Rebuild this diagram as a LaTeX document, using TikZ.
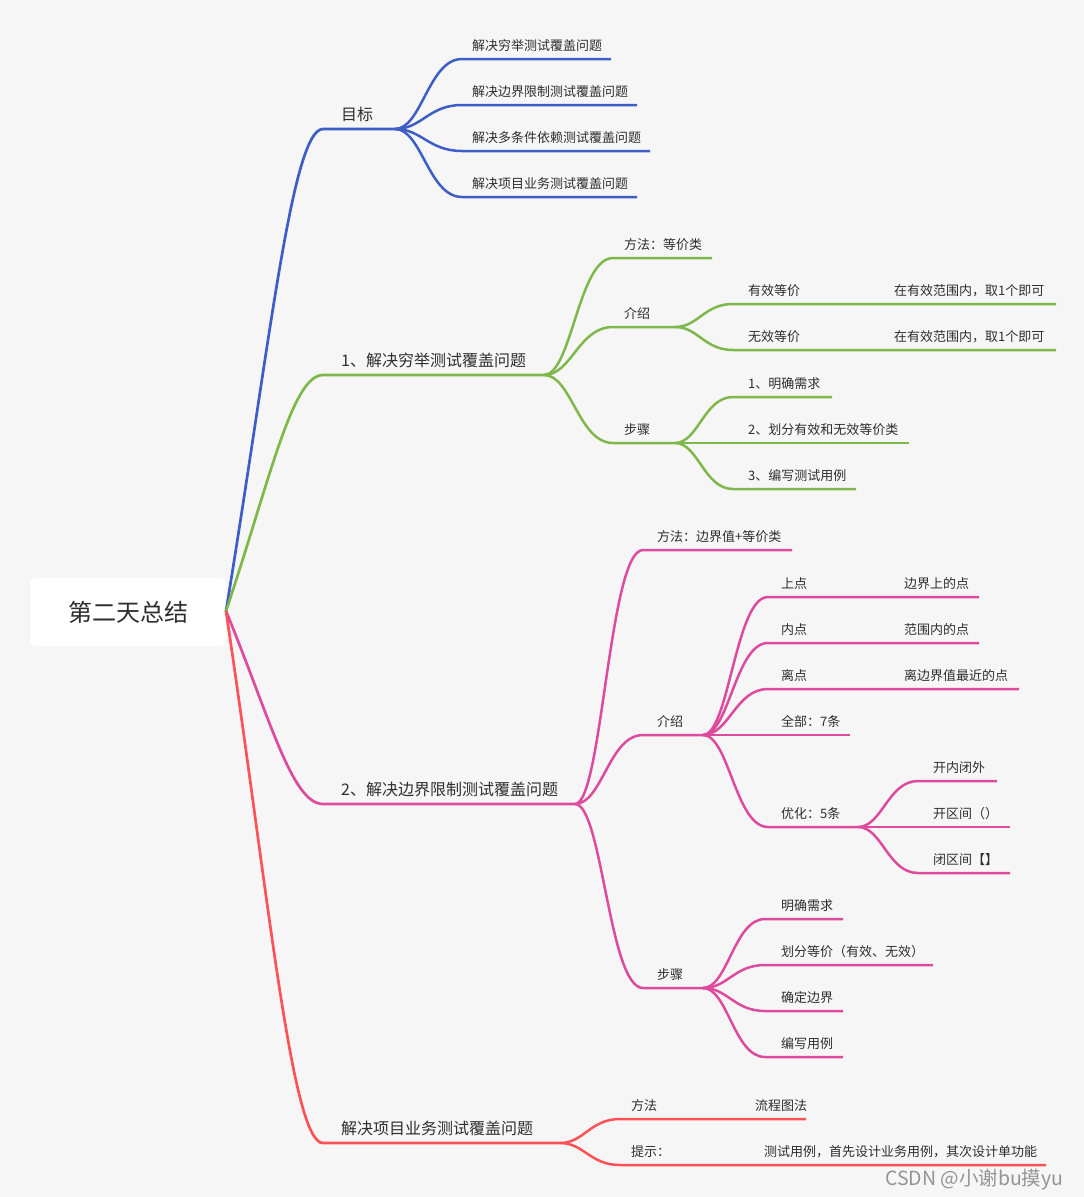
\documentclass[tikz,border=0pt]{standalone}
\usepackage{fontspec}
\newfontfamily\cjk{Noto Sans CJK SC}
\usetikzlibrary{calc}
\definecolor{bgc}{HTML}{F6F6F6}
\definecolor{txt}{HTML}{2E2E2E}
\definecolor{cb}{HTML}{3D5DC7}
\definecolor{cg}{HTML}{7EB84B}
\definecolor{cm}{HTML}{DD4A9E}
\definecolor{cr}{HTML}{FF5257}
% main branch from the root: steep start, rounded turn into the horizontal
\newcommand\brm[3]{\draw[#1] let \p1=(#2), \p2=(#3s) in (#2) .. controls ({\x1+0.45*(\x2-\x1)},{\y1+0.55*(\y2-\y1)}) and ({\x2-0.32*(\x2-\x1)},{\y2}) .. (#3s) -- (#3e);}
% child branch: S curve
\newcommand\brc[3]{\draw[#1] let \p1=(#2), \p2=(#3s) in (#2) .. controls ({\x1+0.4*(\x2-\x1)},{\y1}) and ({\x1+0.5*(\x2-\x1)},{\y2}) .. (#3s) -- (#3e);}
\begin{document}
\begin{tikzpicture}[x=1pt,y=-1pt,
  lb/.style={anchor=base west, inner sep=0pt, text=txt, font=\cjk\fontsize{13}{15}\selectfont},
  lbm/.style={anchor=base west, inner sep=0pt, text=txt, font=\cjk\fontsize{16}{19}\selectfont},
  lbl/.style={line width=2.7pt},
  ln/.style={line width=2.5pt},
  cbl/.style={lbl, draw=cb}, cgr/.style={lbl, draw=cg}, cmg/.style={lbl, draw=cm}, crd/.style={lbl, draw=cr},
  sbl/.style={ln, draw=cb}, sgr/.style={ln, draw=cg}, smg/.style={ln, draw=cm}, srd/.style={ln, draw=cr}]
\path[fill=bgc, use as bounding box] (0,0) rectangle (1084,1197);

% root
\node[fill=white, rounded corners=6pt, minimum width=196pt, minimum height=68pt, inner sep=0pt, text=txt, font=\cjk\fontsize{24}{28}\selectfont] (root) at (128,612) {第二天总结};
\coordinate (r) at (226,611);

% ---------------- coordinates
\coordinate (b0s) at (323,129); \coordinate (b0e) at (395,129);
\coordinate (b1s) at (462,59);  \coordinate (b1e) at (611,59);
\coordinate (b2s) at (462,105); \coordinate (b2e) at (637,105);
\coordinate (b3s) at (462,151); \coordinate (b3e) at (650,151);
\coordinate (b4s) at (462,197); \coordinate (b4e) at (637,197);

\coordinate (g0s) at (323,375); \coordinate (g0e) at (544,375);
\coordinate (g1s) at (613,258); \coordinate (g1e) at (712,258);
\coordinate (g2s) at (613,327); \coordinate (g2e) at (675,327);
\coordinate (g21s) at (733,304); \coordinate (g21e) at (1056,304);
\coordinate (g22s) at (733,350); \coordinate (g22e) at (1056,350);
\coordinate (g3s) at (613,443); \coordinate (g3e) at (675,443);
\coordinate (g31s) at (733,397); \coordinate (g31e) at (832,397);
\coordinate (g32s) at (733,443); \coordinate (g32e) at (909,443);
\coordinate (g33s) at (733,489); \coordinate (g33e) at (856,489);

\coordinate (m0s) at (323,804); \coordinate (m0e) at (575,804);
\coordinate (m1s) at (643,550); \coordinate (m1e) at (792,550);
\coordinate (m2s) at (643,735); \coordinate (m2e) at (703,735);
\coordinate (m21s) at (768,597); \coordinate (m21e) at (979,597);
\coordinate (m22s) at (768,643); \coordinate (m22e) at (979,643);
\coordinate (m23s) at (768,689); \coordinate (m23e) at (1019,689);
\coordinate (m24s) at (768,735); \coordinate (m24e) at (850,735);
\coordinate (m25s) at (768,827); \coordinate (m25e) at (858,827);
\coordinate (m251s) at (918,781); \coordinate (m251e) at (997,781);
\coordinate (m252s) at (918,827); \coordinate (m252e) at (1010,827);
\coordinate (m253s) at (918,873); \coordinate (m253e) at (1010,873);
\coordinate (m3s) at (643,988); \coordinate (m3e) at (703,988);
\coordinate (m31s) at (765,919); \coordinate (m31e) at (843,919);
\coordinate (m32s) at (765,965); \coordinate (m32e) at (933,965);
\coordinate (m33s) at (765,1011); \coordinate (m33e) at (843,1011);
\coordinate (m34s) at (765,1057); \coordinate (m34e) at (843,1057);

\coordinate (r0s) at (323,1143); \coordinate (r0e) at (560,1143);
\coordinate (r1s) at (620,1119); \coordinate (r1e) at (806,1119);
\coordinate (r2s) at (620,1165); \coordinate (r2e) at (1046,1165);

% ---------------- connectors
\brm{cbl}{r}{b0}
\brc{sbl}{b0e}{b1} \brc{sbl}{b0e}{b2} \brc{sbl}{b0e}{b3} \brc{sbl}{b0e}{b4}

\brm{cgr}{r}{g0}
\brc{sgr}{g0e}{g1} \brc{sgr}{g0e}{g2} \brc{sgr}{g0e}{g3}
\brc{sgr}{g2e}{g21} \brc{sgr}{g2e}{g22}
\brc{sgr}{g3e}{g31} \brc{sgr}{g3e}{g32} \brc{sgr}{g3e}{g33}

\brm{cmg}{r}{m0}
\brc{smg}{m0e}{m1} \brc{smg}{m0e}{m2} \brc{smg}{m0e}{m3}
\brc{smg}{m2e}{m21} \brc{smg}{m2e}{m22} \brc{smg}{m2e}{m23} \brc{smg}{m2e}{m24} \brc{smg}{m2e}{m25}
\brc{smg}{m25e}{m251} \brc{smg}{m25e}{m252} \brc{smg}{m25e}{m253}
\brc{smg}{m3e}{m31} \brc{smg}{m3e}{m32} \brc{smg}{m3e}{m33} \brc{smg}{m3e}{m34}

\brm{crd}{r}{r0}
\brc{srd}{r0e}{r1} \brc{srd}{r0e}{r2}

% ---------------- labels
\node[lbm] (tb0) at (341,120) {目标};
\node[lb] (tb1) at (472,50) {解决穷举测试覆盖问题};
\node[lb] (tb2) at (472,96) {解决边界限制测试覆盖问题};
\node[lb] (tb3) at (472,142) {解决多条件依赖测试覆盖问题};
\node[lb] (tb4) at (472,188) {解决项目业务测试覆盖问题};

\node[lbm] (tg0) at (341,366) {1、解决穷举测试覆盖问题};
\node[lb] (tg1) at (624,249) {方法：等价类};
\node[lb] (tg2) at (624,318) {介绍};
\node[lb] (tg21) at (748,295) {有效等价};
\node[lb] (tg21b) at (894,295) {在有效范围内，取1个即可};
\node[lb] (tg22) at (748,341) {无效等价};
\node[lb] (tg22b) at (894,341) {在有效范围内，取1个即可};
\node[lb] (tg3) at (624,434) {步骤};
\node[lb] (tg31) at (748,388) {1、明确需求};
\node[lb] (tg32) at (748,434) {2、划分有效和无效等价类};
\node[lb] (tg33) at (748,480) {3、编写测试用例};

\node[lbm] (tm0) at (341,795) {2、解决边界限制测试覆盖问题};
\node[lb] (tm1) at (657,541) {方法：边界值+等价类};
\node[lb] (tm2) at (657,726) {介绍};
\node[lb] (tm21) at (781,588) {上点};
\node[lb] (tm21b) at (904,588) {边界上的点};
\node[lb] (tm22) at (781,634) {内点};
\node[lb] (tm22b) at (904,634) {范围内的点};
\node[lb] (tm23) at (781,680) {离点};
\node[lb] (tm23b) at (904,680) {离边界值最近的点};
\node[lb] (tm24) at (781,726) {全部：7条};
\node[lb] (tm25) at (781,818) {优化：5条};
\node[lb] (tm251) at (933,772) {开内闭外};
\node[lb] (tm252) at (933,818) {开区间（）};
\node[lb] (tm253) at (933,864) {闭区间【】};
\node[lb] (tm3) at (657,979) {步骤};
\node[lb] (tm31) at (781,910) {明确需求};
\node[lb] (tm32) at (781,956) {划分等价（有效、无效）};
\node[lb] (tm33) at (781,1002) {确定边界};
\node[lb] (tm34) at (781,1048) {编写用例};

\node[lbm] (tr0) at (341,1134) {解决项目业务测试覆盖问题};
\node[lb] (tr1) at (631,1110) {方法};
\node[lb] (tr1b) at (755,1110) {流程图法};
\node[lb] (tr2) at (631,1156) {提示：};
\node[lb] (tr2b) at (764,1156) {测试用例，首先设计业务用例，其次设计单功能};

% watermark
\node[anchor=base west, inner sep=0pt, text=black!42, font=\cjk\fontsize{19.5}{22}\selectfont] (wm) at (885,1185) {CSDN @小谢bu摸yu};
\end{tikzpicture}
\end{document}
